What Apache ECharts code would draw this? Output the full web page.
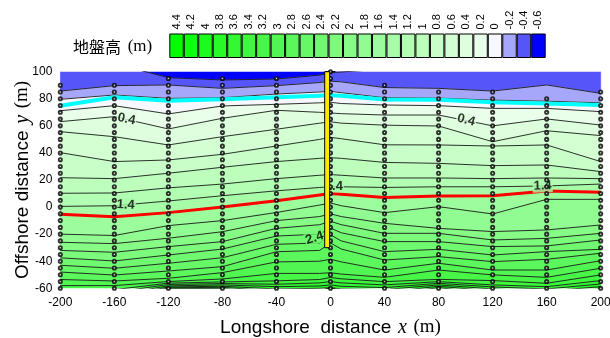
<!DOCTYPE html>
<html><head><meta charset="utf-8">
<script src="https://cdn.jsdelivr.net/npm/echarts@6/dist/echarts.min.js"></script>
<style>html,body{margin:0;padding:0;background:#fff}#chart{width:610px;height:338px}</style>
</head><body><div id="chart"></div>
<script>
// Longshore positions (m) of the sampled profiles
const profileX = [-200, -160, -120, -80, -40, -8, 0, 8, 40, 80, 120, 160, 200];

// Offshore position y (m) of each ground-height contour along the profiles
const yM04 = [108, 106, 95.6, 93.9, 94.6, 97.5, 99.3, 99.8, 102, 108, 108, 108, 108];
const yM02 = [85.7, 89.7, 90.2, 87.7, 89.7, 92, 93, 92.5, 88.3, 87.7, 85.7, 90.2, 84.0];
const y00  = [79.6, 82.8, 80.3, 80.8, 83.5, 85, 85.5, 84.5, 80.8, 80.5, 79, 78.2, 77];
const y02  = [71.2, 74.9, 68.8, 74.7, 75.9, 77, 77.4, 76.5, 75.4, 74.9, 72.9, 72.9, 70.5];
const y04  = [63.1, 66.8, 57.7, 65.6, 71.5, 70, 69.5, 69, 68, 68, 60, 65.1, 60.6];
const y06  = [55.7, 52, 45.9, 52, 57.5, 62, 63, 62, 60.5, 59.9, 48.3, 56.4, 52.8];
const y08  = [40.2, 33.6, 34.8, 39, 45.1, 50, 51.5, 50.5, 46, 45.9, 45.1, 45.9, 33.6];
const y10  = [21.7, 21, 25, 29.4, 33.6, 36, 36.5, 36, 33, 32.3, 30.6, 31.1, 26.2];
const y12  = [10.2, 10.4, 14.2, 17, 21, 23.5, 24, 23.5, 21.5, 21.5, 21, 21.5, 21];
const y14  = [0.5, 1, 4.5, 8.4, 12, 14.5, 15, 15, 14.5, 15, 15, 15.6, 17];
const y16  = [-5.3, -7.1, -4.1, 0, 4.7, 9, 10, 9.5, 7, 8.2, 8.4, 11.9, 10.9];
const y18  = [-20, -21, -13.7, -10, -4, 1.5, 3, 1, -4.1, 0.3, -5.1, 5.7, 5.7];
const y20  = [-26, -27, -23, -18.2, -10, -7, -5, -7, -12, -15.7, -18.1, -16.9, -13.2];
const y22  = [-32, -33.4, -29.2, -25.5, -15.7, -13, -10.5, -13, -19.4, -19.4, -24.3, -23.1, -19.4];
const y24  = [-37.5, -39.8, -35.4, -31, -21.4, -20, -15.5, -19, -25.5, -25.5, -29.2, -28.7, -24.3];
const y26  = [-43, -45.2, -41.5, -37.4, -27.5, -26.5, -20.5, -25, -32.9, -31.2, -35.4, -32.9, -31.2];
const y28  = [-48, -50.2, -47.2, -44, -33, -32, -26.5, -31, -39.1, -36.6, -40.3, -38.6, -34.1];
const y30  = [-53.5, -54.6, -52.6, -48.4, -40.5, -40, -38.5, -40.5, -46.5, -41.5, -46.5, -46.5, -39.6];
const y32  = [-58, -58, -55, -53.1, -49, -49, -48.5, -49.5, -51.9, -46.5, -50.1, -51.9, -45.2];
const y34  = [-61, -61, -56.2, -55.3, -54.5, -53.5, -52, -53, -55.1, -53.4, -54.3, -56.3, -50.1];
const y36  = [-63, -63, -57.2, -56.5, -57, -56, -55, -56, -57.5, -55.1, -57.5, -58.8, -54.3];
const y38  = [-65, -65, -58.2, -57.5, -58.8, -58.3, -57.5, -58.5, -59.5, -56.3, -59, -60.5, -56.8];
const y40  = [-67, -67, -59, -58.5, -60.5, -60, -59.5, -60.5, -61, -57.5, -60.5, -62, -58.8];
const y42  = [-69, -69, -59.6, -59.3, -62, -62, -61, -62, -63, -58.5, -62, -64, -60.5];
const y44  = [-71, -71, -60.2, -60.2, -64, -64, -63, -64, -65, -59.5, -64, -66, -62];

// Contour levels (m), ascending, paired with the rows above
const contourLevels = [-0.4, -0.2, 0, 0.2, 0.4, 0.6, 0.8, 1.0, 1.2, 1.4, 1.6, 1.8, 2.0,
  2.2, 2.4, 2.6, 2.8, 3.0, 3.2, 3.4, 3.6, 3.8, 4.0, 4.2, 4.4];
const contourRows = [yM04, yM02, y00, y02, y04, y06, y08, y10, y12, y14, y16, y18, y20,
  y22, y24, y26, y28, y30, y32, y34, y36, y38, y40, y42, y44];

// Second shoreline trace
const cyanY = [74.9, 81.1, 78.6, 79.6, 81.1, 82.3, 82.6, 82.2, 79.5, 79.2, 77.4, 76.6, 75.4];

// Legend scale
const scaleLabels = ['4.4','4.2','4','3.8','3.6','3.4','3.2','3','2.8','2.6','2.4','2.2','2',
  '1.8','1.6','1.4','1.2','1','0.8','0.6','0.4','0.2','0','-0.2','-0.4','-0.6'];
const scaleColors = ['#00ff00','#10ff10','#1cfc1c','#28fa28','#33f833','#3ef73e','#48f648',
  '#52f652','#5cf75c','#66f866','#70f970','#7bfa7b','#86fb86','#91fc91','#9cfd9c','#a7fda7',
  '#b2feb2','#bdfebd','#c8ffc8','#d3ffd3','#deffde','#eaffea','#f7f7ff','#a6a6fa','#5555fa','#0000ff'];

// Survey points: profile positions and sampled offshore positions
const surveyX = [-200, -160, -120, -80, -40, 0, 40, 80, 120, 160, 200];
const surveyTop = [90, 90, 95, 95, 95, 100, 90, 85, 85, 80, 85];
const surveyY = [100, 95, 90, 85, 80, 75, 70, 65, 60, 55, 50, 45, 40, 35, 30, 25, 20, 15, 10, 5,
  0, -5, -10, -15, -20, -25, -30, -35, -40, -45, -50, -55, -60];

// Pier footprint (m)
const pierX = [-4.3, -0.6];
const pierY = [-30, 100];

// Contour annotations
const labelText = ['0.4', '0.4', '1.4', '1.4', '1.4', '2.4'];
const labelX = [-151, 100.5, -151.6, 2.5, 157, -11.8];
const labelY = [65, 64.3, 1.6, 15.6, 15.6, -22.8];
const labelRot = [-12, -15, -3, 0, 2, 18];

const SANS = 'Liberation Sans';
const SERIF = 'Liberation Serif';

function colorForValue(v) {
  const idx = scaleLabels.findIndex(s => Math.abs(parseFloat(s) - v) < 1e-6);
  return scaleColors[idx];
}

const topEdge = profileX.map(() => 115);
const bottomEdge = profileX.map(() => -80);
const bandBounds = [topEdge].concat(contourRows).concat([bottomEdge]);

const bandSeries = {
  type: 'custom', xAxisIndex: 0, yAxisIndex: 0, clip: true, z: 1, silent: true,
  data: contourRows.concat([null]).map((_, k) => [k]),
  renderItem: function (params, api) {
    const k = api.value(0);
    const upper = bandBounds[k], lower = bandBounds[k + 1];
    const pts = [];
    profileX.forEach((x, i) => pts.push(api.coord([x, upper[i]])));
    for (let i = profileX.length - 1; i >= 0; i--) pts.push(api.coord([profileX[i], lower[i]]));
    const v = -0.6 + 0.2 * k;
    const c = colorForValue(Math.round(v * 10) / 10);
    return { type: 'polygon', shape: { points: pts }, style: { fill: c, stroke: c, lineWidth: 0.6 } };
  }
};

const lineSeries = contourRows.map((row, j) => {
  const isRed = Math.abs(contourLevels[j] - 1.6) < 1e-6;
  return {
    type: 'line', xAxisIndex: 0, yAxisIndex: 0, silent: true, z: isRed ? 4 : 2,
    symbol: 'none', animation: false,
    lineStyle: isRed ? { color: '#ff0000', width: 3 } : { color: '#1a1a1a', width: 0.9 },
    data: profileX.map((x, i) => [x, row[i]])
  };
});

const cyanSeries = {
  type: 'line', xAxisIndex: 0, yAxisIndex: 0, silent: true, z: 4, symbol: 'none',
  lineStyle: { color: '#00ffff', width: 4 },
  data: profileX.map((x, i) => [x, cyanY[i]])
};

const labelSeries = {
  type: 'scatter', xAxisIndex: 0, yAxisIndex: 0, silent: true, z: 5, symbolSize: 0,
  data: labelText.map((t, i) => ({
    value: [labelX[i], labelY[i]], name: t,
    label: { rotate: labelRot[i], backgroundColor: colorForValue(parseFloat(t)) }
  })),
  label: {
    show: true, position: 'inside', formatter: p => p.name,
    fontFamily: SANS, fontSize: 13, fontWeight: 'bold', color: '#000', padding: [0, 1]
  }
};

const dotData = [];
surveyX.forEach((x, i) => {
  surveyY.forEach(y => { if (y <= surveyTop[i]) dotData.push([x, y]); });
});
const dotSeries = {
  type: 'scatter', xAxisIndex: 0, yAxisIndex: 0, silent: true, z: 6, symbol: 'circle',
  symbolSize: 3.2, clip: false,
  itemStyle: { color: '#ffffff', borderColor: '#000', borderWidth: 1.9 },
  data: dotData
};

const pierSeries = {
  type: 'custom', xAxisIndex: 0, yAxisIndex: 0, z: 7, silent: true,
  data: [[pierX[0], pierY[0], pierX[1], pierY[1]]],
  renderItem: function (params, api) {
    const p0 = api.coord([api.value(0), api.value(3)]);
    const p1 = api.coord([api.value(2), api.value(1)]);
    return { type: 'rect', shape: { x: p0[0], y: p0[1], width: p1[0] - p0[0], height: p1[1] - p0[1] },
      style: { fill: '#ffea00', stroke: '#000', lineWidth: 1 } };
  }
};

const scaleSeries = {
  type: 'bar', xAxisIndex: 2, yAxisIndex: 2, silent: true, barWidth: '100%', barCategoryGap: '0%',
  data: scaleColors.map(c => ({ value: 1, itemStyle: { color: c, borderColor: '#000', borderWidth: 1 } }))
};

const axisCommon = {
  axisLine: { lineStyle: { color: '#000', width: 1 } },
  axisTick: { show: true, inside: false, length: 5, lineStyle: { color: '#000' } },
  splitLine: { show: false }
};

const chart = echarts.init(document.getElementById('chart'), null, { renderer: 'canvas' });
chart.setOption({
  animation: false,
  backgroundColor: '#ffffff',
  grid: [
    { left: 60.3, right: 9.3, top: 71.7, bottom: 49.7, containLabel: false, outerBoundsMode: 'none' },
    { left: 169.3, width: 376.4, top: 33.5, height: 24.5, containLabel: false, outerBoundsMode: 'none' }
  ],
  graphic: [{
    type: 'text', left: 73, top: 38,
    style: {
      text: '{a|地盤高}  {b|(m)}',
      rich: {
        a: { fontFamily: 'Noto Sans CJK JP', fontSize: 16, fill: '#000' },
        b: { fontFamily: SERIF, fontSize: 17, fill: '#000' }
      }
    }
  }],
  xAxis: [
    Object.assign({}, axisCommon, {
      type: 'value', gridIndex: 0, min: -200, max: 200, interval: 40, position: 'bottom',
      axisLabel: { fontFamily: SANS, fontSize: 12, color: '#000', margin: 8 },
      name: '{n|Longshore  distance}  {i|x}  {m|(m)}', nameLocation: 'middle', nameGap: 29,
      nameTextStyle: {
        rich: {
          n: { fontFamily: SANS, fontSize: 19, color: '#000' },
          i: { fontFamily: SERIF, fontStyle: 'italic', fontSize: 20, color: '#000' },
          m: { fontFamily: SERIF, fontSize: 19, color: '#000' }
        }
      }
    }),
    Object.assign({}, axisCommon, {
      type: 'value', gridIndex: 0, min: -200, max: 200, interval: 40, position: 'top',
      axisLabel: { show: false }
    }),
    {
      type: 'category', gridIndex: 1, data: scaleLabels, position: 'top',
      axisLine: { show: false }, axisTick: { show: false },
      axisLabel: { rotate: 90, interval: 0, fontFamily: SANS, fontSize: 11, color: '#000', margin: 4 }
    }
  ],
  yAxis: [
    Object.assign({}, axisCommon, {
      type: 'value', gridIndex: 0, min: -60, max: 100, interval: 20, position: 'left',
      axisLabel: { fontFamily: SANS, fontSize: 12, color: '#000', margin: 8 },
      name: '{n|Offshore distance}  {i|y}  {m|(m)}', nameLocation: 'middle', nameGap: 28,
      nameMoveOverlap: false,
      nameTextStyle: {
        rich: {
          n: { fontFamily: SANS, fontSize: 19, color: '#000' },
          i: { fontFamily: SERIF, fontStyle: 'italic', fontSize: 20, color: '#000' },
          m: { fontFamily: SERIF, fontSize: 19, color: '#000' }
        }
      }
    }),
    Object.assign({}, axisCommon, {
      type: 'value', gridIndex: 0, min: -60, max: 100, interval: 20, position: 'right',
      axisLabel: { show: false }
    }),
    { type: 'value', gridIndex: 1, min: 0, max: 1, show: false }
  ],
  series: [bandSeries].concat(lineSeries).concat([cyanSeries, labelSeries, dotSeries, pierSeries, scaleSeries])
});
</script>
</body></html>
